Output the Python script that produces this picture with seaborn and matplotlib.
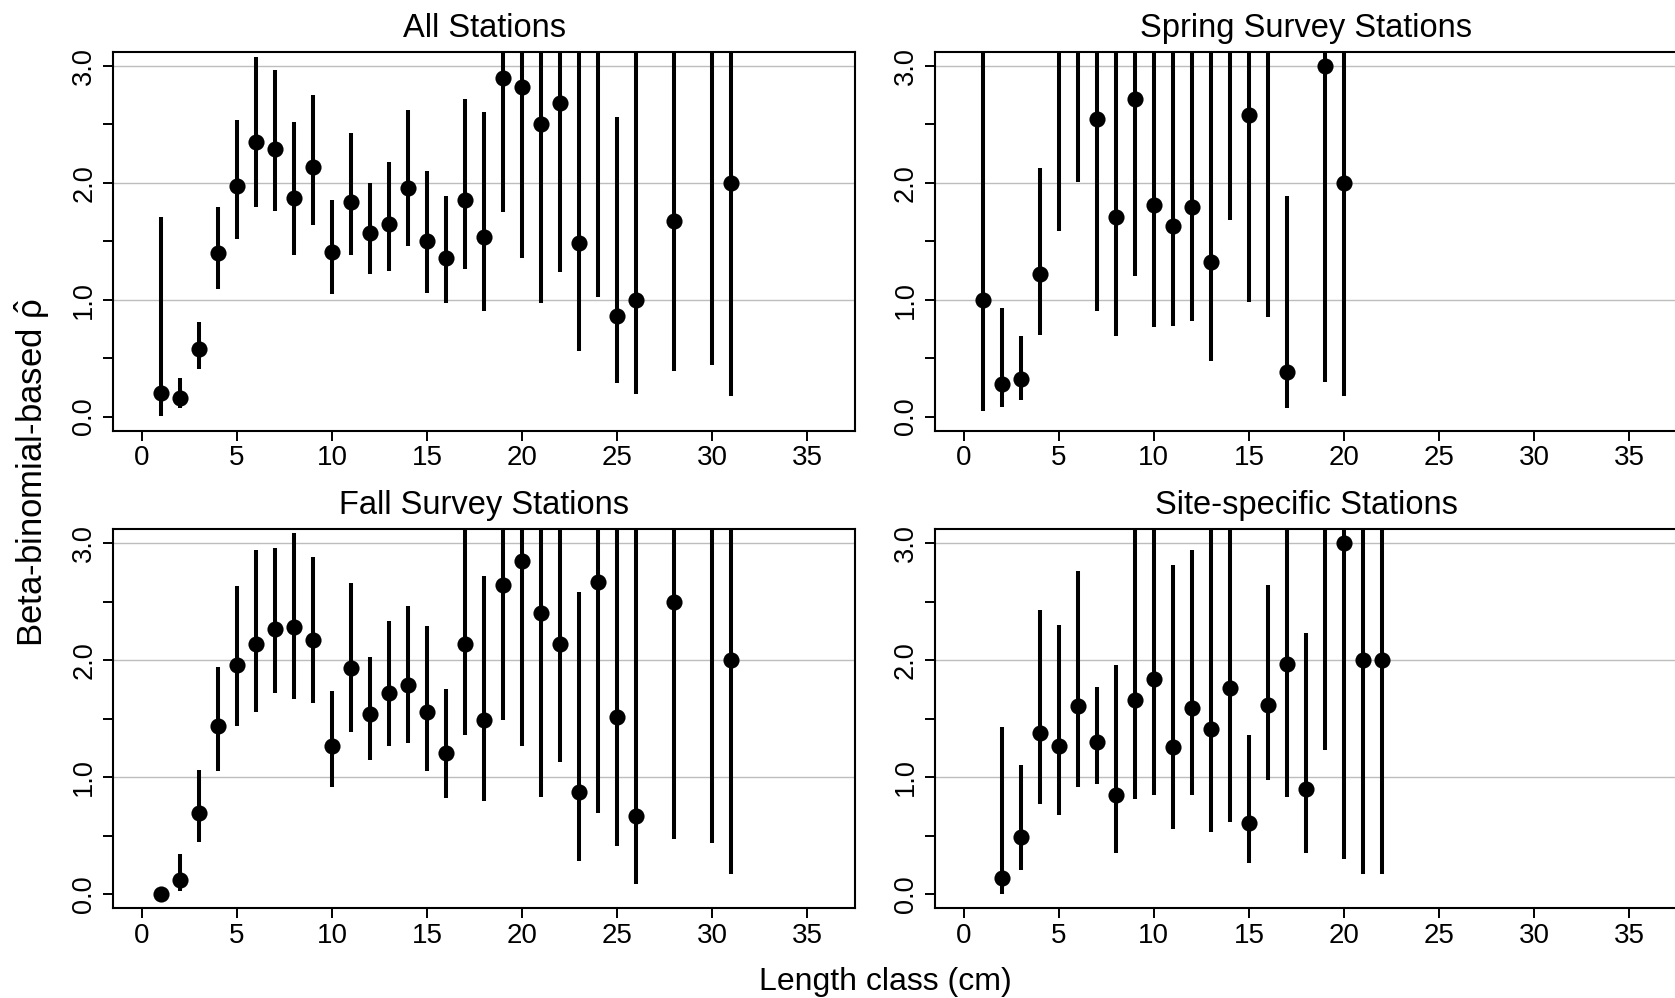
import numpy as np
import pandas as pd
import matplotlib
matplotlib.use("Agg")
import matplotlib.pyplot as plt
import seaborn as sns

# ---------------- data ----------------
# NaN estimate = point estimate lies above the plotted range (not visible)
# upper = 3.6 means the interval runs past the top of the panel
all_x   = [1, 2, 3, 4, 5, 6, 7, 8, 9, 10, 11, 12, 13, 14, 15, 16, 17, 18, 19, 20, 21, 22, 23, 24, 25, 26, 28, 30, 31]
all_est = [0.20, 0.16, 0.58, 1.40, 1.97, 2.35, 2.29, 1.87, 2.14, 1.41, 1.84, 1.57, 1.65, 1.96, 1.50, 1.36, 1.85, 1.54,
           2.90, 2.82, 2.50, 2.68, 1.49, np.nan, 0.86, 1.00, 1.67, np.nan, 2.00]
all_lo  = [0.01, 0.07, 0.41, 1.09, 1.52, 1.79, 1.76, 1.38, 1.64, 1.05, 1.38, 1.22, 1.25, 1.46, 1.06, 0.97, 1.26, 0.90,
           1.75, 1.36, 0.97, 1.24, 0.56, 1.02, 0.29, 0.19, 0.39, 0.44, 0.18]
all_hi  = [1.71, 0.33, 0.81, 1.79, 2.54, 3.08, 2.97, 2.52, 2.75, 1.85, 2.43, 2.00, 2.18, 2.62, 2.10, 1.89, 2.72, 2.61,
           3.6, 3.6, 3.6, 3.6, 3.6, 3.6, 2.56, 3.6, 3.6, 3.6, 3.6]

spr_x   = [1, 2, 3, 4, 5, 6, 7, 8, 9, 10, 11, 12, 13, 14, 15, 16, 17, 19, 20]
spr_est = [1.00, 0.28, 0.32, 1.22, np.nan, np.nan, 2.55, 1.71, 2.72, 1.81, 1.63, 1.79, 1.32, np.nan, 2.58, np.nan, 0.38,
           3.00, 2.00]
spr_lo  = [0.05, 0.08, 0.14, 0.70, 1.59, 2.01, 0.90, 0.69, 1.20, 0.77, 0.78, 0.82, 0.48, 1.68, 0.98, 0.85, 0.07,
           0.30, 0.18]
spr_hi  = [3.6, 0.93, 0.69, 2.13, 3.6, 3.6, 3.6, 3.6, 3.6, 3.6, 3.6, 3.6, 3.6, 3.6, 3.6, 3.6, 1.89, 3.6, 3.6]

fall_x   = [1, 2, 3, 4, 5, 6, 7, 8, 9, 10, 11, 12, 13, 14, 15, 16, 17, 18, 19, 20, 21, 22, 23, 24, 25, 26, 28, 30, 31]
fall_est = [0.00, 0.12, 0.69, 1.44, 1.96, 2.14, 2.27, 2.28, 2.17, 1.27, 1.93, 1.54, 1.72, 1.79, 1.56, 1.21, 2.14, 1.49,
            2.64, 2.85, 2.40, 2.14, 0.87, 2.67, 1.51, 0.67, 2.50, np.nan, 2.00]
fall_lo  = [0.00, 0.03, 0.45, 1.05, 1.44, 1.56, 1.72, 1.67, 1.63, 0.92, 1.39, 1.15, 1.27, 1.29, 1.05, 0.82, 1.36, 0.80,
            1.49, 1.27, 0.83, 1.13, 0.28, 0.69, 0.41, 0.09, 0.47, 0.44, 0.17]
fall_hi  = [0.00, 0.34, 1.06, 1.94, 2.63, 2.94, 2.96, 3.09, 2.88, 1.74, 2.66, 2.03, 2.33, 2.46, 2.29, 1.75, 3.6, 2.72,
            3.6, 3.6, 3.6, 3.6, 2.58, 3.6, 3.6, 3.6, 3.6, 3.6, 3.6]

site_x   = [2, 3, 4, 5, 6, 7, 8, 9, 10, 11, 12, 13, 14, 15, 16, 17, 18, 19, 20, 21, 22]
site_est = [0.14, 0.49, 1.38, 1.27, 1.61, 1.30, 0.85, 1.66, 1.84, 1.26, 1.59, 1.41, 1.76, 0.61, 1.62, 1.97, 0.90,
            np.nan, 3.00, 2.00, 2.00]
site_lo  = [0.00, 0.21, 0.77, 0.68, 0.92, 0.94, 0.35, 0.81, 0.85, 0.56, 0.85, 0.53, 0.62, 0.27, 0.98, 0.83, 0.35,
            1.23, 0.30, 0.17, 0.17]
site_hi  = [1.43, 1.10, 2.43, 2.30, 2.76, 1.77, 1.96, 3.6, 3.6, 2.81, 2.94, 3.6, 3.6, 1.36, 2.64, 3.6, 2.23,
            3.6, 3.6, 3.6, 3.6]

panel_titles = ["All Stations", "Spring Survey Stations", "Fall Survey Stations", "Site-specific Stations"]
x_ticks = [0, 5, 10, 15, 20, 25, 30, 35]
y_ticks = [0.0, 1.0, 2.0, 3.0]
y_tick_labels = ["0.0", "1.0", "2.0", "3.0"]
y_minor = [0.5, 1.5, 2.5]

# ---------------- styling ----------------
sns.set_theme(style="white")
plt.rcParams["font.family"] = ["Liberation Sans", "DejaVu Sans"]
plt.rcParams["mathtext.fontset"] = "custom"
plt.rcParams["mathtext.rm"] = "Liberation Sans"
plt.rcParams["mathtext.it"] = "Liberation Sans:italic"
for k in ["text.color", "axes.labelcolor", "xtick.color", "ytick.color", "axes.edgecolor"]:
    plt.rcParams[k] = "black"

W, H = 1675, 998
fig = plt.figure(figsize=(W / 100, H / 100), dpi=100)

def rect(l, r, t, b):
    return [l / W, 1 - b / H, (r - l) / W, (b - t) / H]

rects = [rect(113.3, 855, 52, 430.7), rect(935, 1677, 52, 430.7),
         rect(113.3, 855, 529, 908.3), rect(935, 1677, 529, 908.3)]

datasets = [(all_x, all_est, all_lo, all_hi), (spr_x, spr_est, spr_lo, spr_hi),
            (fall_x, fall_est, fall_lo, fall_hi), (site_x, site_est, site_lo, site_hi)]

for rc, title, (xs, est, lo, hi) in zip(rects, panel_titles, datasets):
    ax = fig.add_axes(rc)
    df = pd.DataFrame({"x": xs, "est": est, "lo": lo, "hi": hi})
    for yv in [1.0, 2.0, 3.0]:
        ax.axhline(yv, color="#bdbdbd", lw=1.0, zorder=0)
    ax.vlines(df["x"], df["lo"], df["hi"], color="black", lw=2.9, zorder=2)
    sns.scatterplot(data=df.dropna(subset=["est"]), x="x", y="est", ax=ax, color="black",
                    s=135, linewidth=0, zorder=3, legend=False)
    ax.set_xlim(-1.5, 37.5)
    ax.set_ylim(-0.12, 3.12)
    ax.set_xticks(x_ticks)
    ax.set_xticklabels([str(v) for v in x_ticks])
    ax.set_yticks(y_ticks)
    ax.set_yticklabels(y_tick_labels)
    ax.set_yticks(y_minor, minor=True)
    ax.set_xlabel("")
    ax.set_ylabel("")
    ax.set_title(title, fontsize=23.5, pad=10.5)
    for s in ax.spines.values():
        s.set_color("black")
        s.set_linewidth(1.5)
    ax.tick_params(axis="both", which="both", direction="out", length=7.5, width=1.4,
                   color="black", labelsize=20, left=True, bottom=True, pad=3)
    ax.tick_params(axis="y", which="major", labelrotation=90, pad=4, labelsize=19.5)
    for lab in ax.get_yticklabels():
        lab.set_va("center")

fig.text(885 / W, 8 / H, "Length class (cm)", ha="center", va="baseline", fontsize=23)
fig.text(32 / W, 1 - 473 / H, r"Beta-binomial-based $\hat{\mathrm{\rho}}$", ha="center", va="center",
         rotation=90, fontsize=25)

fig.savefig("out.png", dpi=100)
